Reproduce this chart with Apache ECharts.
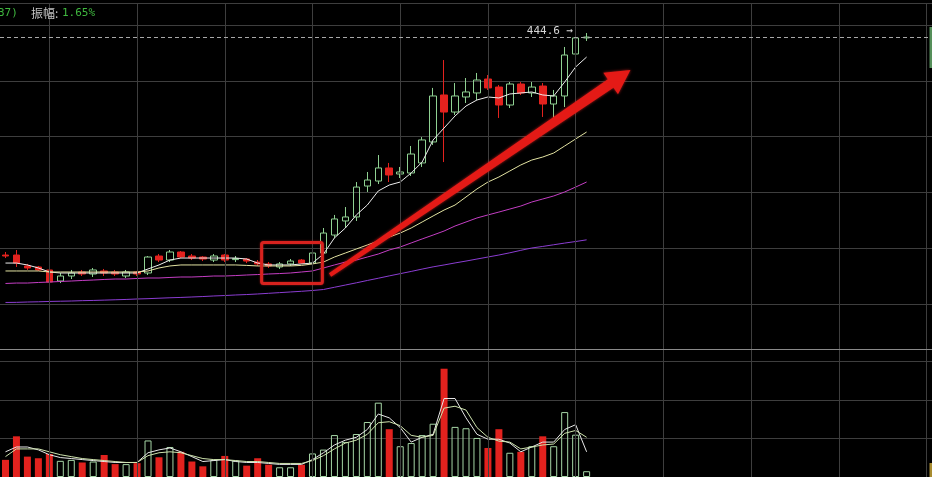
<!DOCTYPE html>
<html>
<head>
<meta charset="utf-8">
<script src="https://cdn.jsdelivr.net/npm/echarts@6/dist/echarts.min.js"></script>
<style>
  html, body { margin: 0; padding: 0; background: #000; }
  #chart { width: 932px; height: 477px; }
</style>
</head>
<body>
<div id="chart"></div>
<script>
// ---- daily bars (price) ----
const candleOpen = [243.9, 243.9, 234.1, 233.2, 230.5, 220.6, 225.1, 228.7, 226.9, 229.6,
  228.7, 225.1, 228.7, 227.8, 243.0, 239.4, 246.6, 243.0, 242.1, 239.4,
  243.9, 239.8, 240.3, 237.6, 235.9, 233.2, 235.9, 239.4, 236.7, 245.7,
  261.8, 274.4, 278.0, 305.7, 310.2, 321.9, 316.5, 317.4, 326.4, 345.2,
  387.3, 372.0, 385.5, 389.1, 401.6, 394.4, 378.3, 397.1, 389.1, 395.3,
  379.2, 386.4, 424.0, 438.4];
const candleClose = [243.0, 236.7, 232.3, 230.5, 219.7, 225.1, 227.8, 226.9, 230.5, 227.8,
  226.9, 228.7, 226.9, 242.1, 239.4, 246.6, 242.1, 241.2, 240.3, 243.0,
  239.4, 240.8, 238.5, 235.9, 234.1, 235.9, 238.5, 236.7, 245.7, 263.6,
  276.2, 278.0, 304.8, 311.1, 321.9, 315.6, 318.3, 334.4, 347.0, 386.4,
  372.0, 386.4, 390.0, 400.7, 393.6, 378.3, 397.1, 389.1, 394.4, 379.2,
  386.4, 423.1, 438.4, 439.2];
const candleHigh = [246.6, 248.4, 235.9, 234.1, 232.3, 227.8, 230.5, 230.5, 232.3, 231.4,
  230.5, 230.5, 229.6, 243.0, 244.8, 248.4, 247.5, 244.8, 243.0, 244.8,
  244.8, 243.0, 241.2, 239.4, 237.6, 237.6, 240.3, 240.3, 247.5, 268.1,
  279.8, 286.9, 309.3, 318.3, 333.5, 326.4, 322.8, 341.6, 349.6, 393.6,
  418.6, 398.0, 402.5, 407.0, 405.2, 396.2, 398.9, 398.9, 398.9, 398.0,
  391.8, 430.3, 444.6, 442.8];
const candleLow = [241.2, 233.2, 230.5, 229.6, 217.0, 218.8, 222.4, 225.1, 224.2, 225.1,
  225.1, 223.3, 225.1, 226.0, 237.6, 237.6, 241.2, 239.4, 238.5, 237.6,
  237.6, 237.6, 236.7, 234.1, 232.3, 231.4, 234.1, 235.9, 235.0, 243.9,
  259.2, 268.1, 274.4, 300.4, 307.5, 309.3, 312.9, 314.7, 322.8, 342.5,
  327.2, 369.4, 380.1, 382.8, 391.8, 366.7, 375.6, 387.3, 385.5, 367.6,
  366.7, 376.5, 416.0, 435.7];

// ---- moving averages of price ----
const ma5 = [236.7, 236.7, 235.0, 232.3, 228.7, 227.8, 227.8, 227.8, 227.8, 227.8,
  227.8, 227.8, 227.8, 231.4, 235.0, 239.4, 241.2, 241.2, 241.2, 241.2,
  241.2, 241.2, 240.3, 236.7, 235.0, 235.0, 235.0, 235.9, 236.7, 244.8,
  259.2, 268.1, 279.8, 288.7, 301.3, 306.6, 309.3, 317.4, 327.2, 347.0,
  357.7, 368.5, 377.4, 382.8, 385.5, 384.6, 388.2, 389.1, 390.0, 387.3,
  386.4, 398.9, 412.4, 421.3];
const ma10 = [229.6, 229.6, 229.6, 229.6, 228.7, 228.7, 228.7, 228.7, 228.7, 228.7,
  228.7, 228.7, 228.7, 229.6, 232.3, 234.1, 235.0, 235.0, 235.0, 235.0,
  235.0, 235.0, 234.6, 234.1, 234.1, 234.1, 234.1, 234.6, 235.9, 237.6,
  242.1, 245.7, 249.3, 252.9, 256.5, 260.0, 263.6, 268.1, 273.5, 278.9,
  284.2, 288.7, 295.9, 303.1, 309.3, 313.8, 319.2, 324.6, 329.0, 331.7,
  335.3, 341.6, 347.9, 354.1];
const ma20 = [218.4, 218.8, 218.8, 219.3, 219.7, 220.2, 220.6, 221.1, 221.5, 222.0,
  222.4, 222.4, 222.9, 223.3, 223.3, 223.8, 224.2, 224.2, 224.6, 225.1,
  225.1, 225.5, 226.0, 226.4, 226.9, 227.3, 227.8, 228.7, 229.6, 232.3,
  235.0, 237.6, 239.4, 242.1, 244.8, 248.4, 251.1, 254.7, 258.3, 261.8,
  265.4, 269.9, 273.5, 277.1, 279.8, 282.4, 285.1, 287.8, 291.4, 294.1,
  296.8, 300.4, 304.8, 309.3];
const ma60 = [201.4, 201.5, 201.8, 202.0, 202.3, 202.5, 202.7, 203.0, 203.2, 203.5,
  203.8, 204.1, 204.5, 204.8, 205.2, 205.6, 205.9, 206.3, 206.7, 207.2,
  207.6, 208.1, 208.5, 209.0, 209.6, 210.2, 210.8, 211.4, 212.1, 213.0,
  215.0, 217.0, 219.0, 221.1, 223.1, 225.2, 227.2, 229.2, 231.3, 233.3,
  235.0, 236.8, 238.5, 240.3, 242.1, 243.9, 245.9, 248.1, 250.2, 251.6,
  253.1, 254.6, 256.0, 257.5];

// ---- volume and its averages ----
const volume = [17.8, 42.3, 21.2, 19.5, 23.9, 16.8, 17.8, 15.1, 16.1, 22.9,
  13.4, 13.4, 14.4, 38.0, 20.5, 31.2, 26.2, 16.1, 11.1, 17.8,
  21.9, 17.1, 11.8, 19.5, 12.8, 10.1, 10.1, 12.8, 24.5, 28.5,
  43.6, 36.3, 44.7, 57.2, 77.3, 49.7, 32.0, 35.3, 43.6, 55.4,
  112.6, 52.1, 50.7, 40.6, 30.2, 49.7, 25.2, 26.2, 32.0, 42.3,
  32.0, 67.5, 44.0, 6.0];
const volMa5 = [26.2, 31.2, 31.2, 28.2, 23.2, 20.2, 19.2, 18.1, 17.1, 16.1,
  15.1, 15.1, 15.1, 25.2, 28.2, 30.2, 26.2, 21.2, 16.1, 17.1,
  18.1, 16.1, 15.1, 15.1, 14.1, 13.1, 13.1, 13.1, 18.1, 25.2,
  33.3, 38.3, 41.3, 49.4, 65.5, 61.5, 51.4, 36.3, 41.3, 44.4,
  81.6, 81.6, 61.5, 44.4, 39.3, 39.3, 35.3, 26.2, 31.2, 36.3,
  36.3, 49.4, 54.4, 26.2];
const volMa10 = [21.2, 29.2, 29.2, 29.2, 26.2, 23.2, 21.2, 19.2, 18.1, 17.1,
  16.1, 15.1, 15.1, 22.2, 25.2, 26.2, 25.2, 22.2, 19.2, 18.1,
  18.1, 17.1, 16.1, 16.1, 15.1, 14.1, 14.1, 14.1, 17.1, 22.2,
  29.2, 35.3, 38.3, 44.4, 56.4, 57.5, 53.4, 43.3, 41.3, 43.3,
  71.6, 73.6, 69.6, 51.4, 41.3, 37.3, 36.3, 29.2, 31.2, 33.3,
  34.3, 45.4, 48.4, 41.3];

// ---- header text ----
const headerTail = '37)';
const ampLabel = '振幅:';
const ampValue = '1.65%';

// one slot per trading day, including empty days still to come on the right
const SLOT_COUNT = 85;
const categories = Array.from({ length: SLOT_COUNT }, (_, i) => 'D' + String(i + 1).padStart(2, '0'));

// annotation anchors, in (day index, price) terms
const focusBox = { fromIdx: 23.36, toIdx: 28.9, top: 255.1, bottom: 218.4 };
const trendArrow = { fromIdx: 29.6, fromPrice: 226.0, toIdx: 57.0, toPrice: 409.7 };

const UP = '#8fd192';
const DOWN = '#e3221e';
const GRID = '#3e3e3e';
const PRICE_MIN = 159.7, PRICE_MAX = 469.7;
const VOL_MAX = 133.1;

const kData = candleOpen.map((o, i) => [o, candleClose[i], candleLow[i], candleHigh[i]]);
const volData = volume.map((v, i) => {
  const up = candleClose[i] >= candleOpen[i];
  return {
    value: v,
    itemStyle: up
      ? { color: 'rgba(0,0,0,0)', borderColor: '#a6d6a6', borderWidth: 1 }
      : { color: DOWN, borderWidth: 0 }
  };
});

const lastClose = candleClose[candleClose.length - 1];
let peakIdx = 0;
candleHigh.forEach((h, i) => { if (h > candleHigh[peakIdx]) peakIdx = i; });

const gridColumns = categories.filter((_, i) => i % 8 === 4).map(c => ({ xAxis: c }));
const columnLines = {
  silent: true, symbol: ['none', 'none'], label: { show: false },
  lineStyle: { color: GRID, type: 'solid', width: 1 }, emphasis: { disabled: true },
  data: gridColumns
};

const hiddenCat = (gi) => ({
  type: 'category', gridIndex: gi, data: categories, boundaryGap: true,
  axisLine: { show: false }, axisTick: { show: false }, axisLabel: { show: false },
  splitLine: { show: false }
});
const hiddenVal = (gi, extra) => Object.assign({
  type: 'value', gridIndex: gi,
  axisLine: { show: false }, axisTick: { show: false }, axisLabel: { show: false },
  splitLine: { show: true, lineStyle: { color: GRID, width: 1 } }
}, extra);

const maLine = (name, data, color, xi, yi) => ({
  name, type: 'line', data, xAxisIndex: xi, yAxisIndex: yi, z: 4,
  symbol: 'none', smooth: false, silent: true,
  lineStyle: { color, width: 1 }
});

const chart = echarts.init(document.getElementById('chart'));
chart.setOption({
  backgroundColor: '#000',
  animation: false,
  grid: [
    { left: 0, top: 3, width: 935, height: 346 },
    { left: 0, top: 349, width: 935, height: 132 }
  ],
  xAxis: [hiddenCat(0), hiddenCat(1)],
  yAxis: [
    hiddenVal(0, { min: PRICE_MIN, max: PRICE_MAX }),
    hiddenVal(1, { min: 0, max: VOL_MAX, interval: 40 })
  ],
  series: [
    { name: 'cols-price', type: 'line', data: [], xAxisIndex: 0, yAxisIndex: 0, z: 1, markLine: columnLines },
    { name: 'cols-vol', type: 'line', data: [], xAxisIndex: 1, yAxisIndex: 1, z: 1, markLine: columnLines },
    {
      name: 'K', type: 'candlestick', data: kData, xAxisIndex: 0, yAxisIndex: 0, z: 3,
      barWidth: 7, silent: true,
      itemStyle: { color: 'rgba(0,0,0,0)', color0: DOWN, borderColor: UP, borderColor0: DOWN, borderWidth: 1 },
      markLine: {
        silent: true, symbol: ['none', 'none'], label: { show: false },
        lineStyle: { color: '#a8a8a8', type: [4, 3], width: 1 },
        data: [{ yAxis: lastClose }]
      },
      markPoint: {
        silent: true, symbol: 'circle', symbolSize: 1,
        itemStyle: { color: 'rgba(0,0,0,0)' },
        label: {
          show: true, position: 'left', distance: 2,
          color: '#d6d6d6', fontSize: 11, fontFamily: 'DejaVu Sans Mono',
          formatter: (p) => p.value.toFixed(1) + ' →'
        },
        data: [{ coord: [categories[peakIdx], candleHigh[peakIdx]], value: candleHigh[peakIdx] }]
      }
    },
    maLine('MA5', ma5, '#ededed', 0, 0),
    maLine('MA10', ma10, '#e3e3a2', 0, 0),
    maLine('MA20', ma20, '#c43ec4', 0, 0),
    maLine('MA60', ma60, '#8b3dd2', 0, 0),
    {
      name: 'VOL', type: 'bar', data: volData, xAxisIndex: 1, yAxisIndex: 1, z: 3,
      barWidth: 7, silent: true
    },
    maLine('VMA5', volMa5, '#e8e8e8', 1, 1),
    maLine('VMA10', volMa10, '#cfe4ae', 1, 1)
  ]
});

// overlays: panel divider, header, and the hand-drawn style annotations
const x0 = chart.convertToPixel({ xAxisIndex: 0 }, categories[0]);
const slot = chart.convertToPixel({ xAxisIndex: 0 }, categories[1]) - x0;
const px = (idx) => x0 + idx * slot;
const py = (p) => chart.convertToPixel({ yAxisIndex: 0 }, p);
const divY = Math.round(chart.convertToPixel({ yAxisIndex: 1 }, VOL_MAX)) + 0.5;

const tail = [px(trendArrow.fromIdx), py(trendArrow.fromPrice)];
const tip = [px(trendArrow.toIdx), py(trendArrow.toPrice)];
const dx = tip[0] - tail[0], dy = tip[1] - tail[1];
const len = Math.hypot(dx, dy);
const ux = dx / len, uy = dy / len;
const nx = -uy, ny = ux;
const headLen = 24, headHalf = 13, shaftHead = 5, shaftTail = 2;
const base = [tip[0] - ux * headLen, tip[1] - uy * headLen];
const arrowPts = [
  [tail[0] + nx * shaftTail, tail[1] + ny * shaftTail],
  [base[0] + nx * shaftHead, base[1] + ny * shaftHead],
  [base[0] + nx * headHalf, base[1] + ny * headHalf],
  tip,
  [base[0] - nx * headHalf, base[1] - ny * headHalf],
  [base[0] - nx * shaftHead, base[1] - ny * shaftHead],
  [tail[0] - nx * shaftTail, tail[1] - ny * shaftTail]
];

const boxL = px(focusBox.fromIdx), boxR = px(focusBox.toIdx);
const boxT = py(focusBox.top), boxB = py(focusBox.bottom);

const monoFont = '11px "DejaVu Sans Mono", monospace';
chart.setOption({
  graphic: [
    { type: 'line', silent: true, z: 10, shape: { x1: 0, y1: divY, x2: 932, y2: divY }, style: { stroke: '#8a8a8a', lineWidth: 1 } },
    { type: 'text', silent: true, z: 10, x: -2, y: 13, style: { text: headerTail, fill: '#3fb83f', font: monoFont, verticalAlign: 'middle' } },
    { type: 'text', silent: true, z: 10, x: 31, y: 13, style: { text: ampLabel, fill: '#c4c4c4', font: '12px "Noto Sans CJK SC", sans-serif', verticalAlign: 'middle' } },
    { type: 'text', silent: true, z: 10, x: 62, y: 13, style: { text: ampValue, fill: '#3fb83f', font: monoFont, verticalAlign: 'middle' } },
    { type: 'rect', silent: true, z: 10, shape: { x: 929.5, y: 27, width: 2.5, height: 41 }, style: { fill: '#558f5a' } },
    { type: 'rect', silent: true, z: 10, shape: { x: 929.5, y: 463, width: 2.5, height: 14 }, style: { fill: '#a88c30' } },
    {
      type: 'rect', silent: true, z: 20,
      shape: { x: boxL, y: boxT, width: boxR - boxL, height: boxB - boxT, r: 2 },
      style: { fill: 'none', stroke: '#d8221e', lineWidth: 3, shadowBlur: 2, shadowColor: 'rgba(255,40,40,0.6)' }
    },
    {
      type: 'polygon', silent: true, z: 20,
      shape: { points: arrowPts },
      style: { fill: '#e41a16', shadowBlur: 3, shadowColor: 'rgba(255,40,40,0.7)' }
    }
  ]
});
</script>
</body>
</html>
